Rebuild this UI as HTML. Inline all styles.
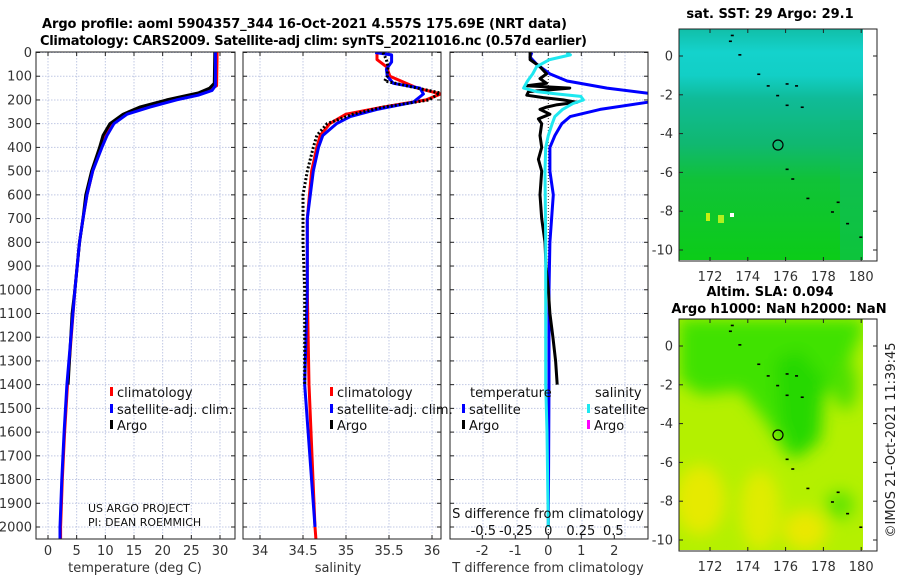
<!DOCTYPE html>
<html><head><meta charset="utf-8"><style>
body{margin:0;background:#fff}
svg{display:block;font-family:"DejaVu Sans","Liberation Sans",sans-serif}
</style></head><body>
<svg id="fig" width="900" height="580" viewBox="0 0 900 580" xmlns="http://www.w3.org/2000/svg">
<defs>
<clipPath id="c1"><rect x="36" y="52" width="199" height="487"/></clipPath>
<clipPath id="c2"><rect x="243" y="52" width="198" height="487"/></clipPath>
<clipPath id="c3"><rect x="450" y="52" width="198" height="487"/></clipPath>
<clipPath id="cm2"><rect x="679" y="319" width="184" height="231"/></clipPath>
<linearGradient id="sstg" x1="0" y1="0" x2="0" y2="1">
<stop offset="0" stop-color="#12bfa8"/><stop offset="0.1" stop-color="#14d2cc"/><stop offset="0.2" stop-color="#12cfc6"/>
<stop offset="0.3" stop-color="#10bb98"/><stop offset="0.5" stop-color="#10b870"/><stop offset="0.65" stop-color="#10c238"/>
<stop offset="1" stop-color="#0ccc18"/></linearGradient>
<filter id="bl"><feGaussianBlur stdDeviation="8"/></filter>
</defs>
<g font-weight="bold" font-size="13" fill="#000">
<text x="42" y="28" textLength="525">Argo profile: aoml 5904357_344 16-Oct-2021 4.557S 175.69E (NRT data)</text>
<text x="40" y="45" textLength="547">Climatology: CARS2009. Satellite-adj clim: synTS_20211016.nc (0.57d earlier)</text>
</g>
<g id="panels"></g>
<g>
<rect x="679" y="29" width="184" height="231" fill="url(#sstg)"/>
<rect x="840" y="120" width="23" height="140" fill="#10b870" opacity="0.4"/>
<rect x="706" y="213" width="4" height="8" fill="#c8f010"/><rect x="718" y="215" width="6" height="8" fill="#b0f020"/><rect x="730" y="213" width="4" height="4" fill="#fff"/>
<text x="770" y="18" text-anchor="middle" font-weight="bold" font-size="13">sat. SST: 29 Argo: 29.1</text>
<circle cx="778" cy="145" r="5" fill="none" stroke="#000" stroke-width="1.2"/>
</g>
<g>
<rect x="679" y="319" width="184" height="231" fill="#b4f000"/>
<g clip-path="url(#cm2)"><g filter="url(#bl)">
<path d="M679 319 H863 V330 L850 360 L835 390 L800 400 L790 460 L765 420 L740 390 L700 395 L679 380Z" fill="#40e200"/>
<path d="M775 360 L800 350 L825 380 L820 440 L795 460 L780 420Z" fill="#28d800"/>
<ellipse cx="700" cy="500" rx="25" ry="35" fill="#e6ea00"/>
<ellipse cx="760" cy="510" rx="20" ry="40" fill="#e0ec00"/>
<ellipse cx="805" cy="530" rx="22" ry="20" fill="#eae800"/>
<ellipse cx="840" cy="505" rx="14" ry="14" fill="#60e400"/>
<ellipse cx="845" cy="385" rx="12" ry="25" fill="#50e000"/>
</g></g>
<text x="770" y="296" text-anchor="middle" font-weight="bold" font-size="13">Altim. SLA: 0.094</text>
<text x="779" y="313" text-anchor="middle" font-weight="bold" font-size="13">Argo h1000: NaN h2000: NaN</text>
<circle cx="778" cy="435" r="5" fill="none" stroke="#000" stroke-width="1.2"/>
</g>
<g id="maps"></g>
<text transform="translate(895,440) rotate(-90)" text-anchor="middle" font-size="13" fill="#222">©IMOS 21-Oct-2021 11:39:45</text>
</svg>
<script>
const tDepth=[0,130,150,170,200,230,260,300,350,400,500,600,700,800,1000,1100,1400];
const tArgo=[29.1,29.0,28.2,26.3,20.7,16,13.1,10.8,9.6,9.0,7.6,6.6,6.1,5.5,4.7,4.2,3.5];
const tcDepth=[0,140,160,180,200,230,260,300,350,400,500,600,700,800,1000,1400,1600,1800,2000,2050];
const tClim=[29.5,29.4,28.0,25.0,21.0,16.8,13.3,11.2,10.0,9.2,7.8,6.8,6.1,5.5,4.7,3.4,2.9,2.5,2.2,2.2];
const tSat=[29.2,29.2,28.6,26.2,22.4,17.8,13.8,11.5,10.3,9.4,7.8,6.8,6.1,5.5,4.7,3.3,2.8,2.4,2.1,2.1];
const sDepth=[0,30,60,100,120,150,170,200,230,260,300,350,400,500,600,800,1000,1400];
const sArgo=[35.43,35.47,35.49,35.48,35.45,35.83,36.09,35.97,35.43,35.08,34.78,34.66,34.62,34.55,34.5,34.5,34.52,34.52];
const scDepth=[0,30,60,100,150,175,200,230,260,300,350,400,500,700,1000,1400,2000,2050];
const sClim=[35.36,35.36,35.47,35.51,35.83,36.1,35.93,35.43,35.0,34.81,34.7,34.66,34.6,34.55,34.55,34.57,34.64,34.65];
const ssDepth=[0,10,40,70,100,130,150,175,210,240,270,300,350,400,500,700,1000,1400,2000];
const sSat=[35.34,35.53,35.53,35.47,35.48,35.55,35.86,35.9,35.78,35.36,35.05,34.89,34.73,34.68,34.62,34.55,34.55,34.52,34.64];
const dtDepth=[0,20,50,90,120,150,175,200,210,240,270,300,350,400,500,600,800,1000,1400,2000];
const dtSat=[-0.5,-0.55,-0.35,0.05,0.57,1.78,3.2,3.4,3.0,1.57,0.66,0.41,0.2,0.05,0.05,0.15,0.05,0.02,0.02,0];
const daDepth=[0,30,60,90,110,130,140,150,165,180,190,200,210,220,230,240,260,280,300,350,400,450,500,600,700,800,900,1000,1100,1200,1300,1400];
const dtArgo=[-0.55,-0.55,-0.25,-0.05,-0.25,-0.05,-0.65,0.65,-0.6,-0.65,-0.15,0.45,0.87,0.27,-0.05,-0.25,0.05,-0.3,-0.2,-0.25,-0.2,-0.3,-0.2,-0.25,-0.2,-0.1,-0.07,0,0.05,0.14,0.22,0.27];
const dsDepth=[0,10,30,60,90,120,150,165,175,185,200,215,240,270,300,350,400,500,800,1400,1600,2000];
const dsSat=[0.14,0.17,0.01,-0.09,-0.12,-0.16,-0.19,-0.09,0.07,0.25,0.27,0.19,0.11,0.05,0.03,0,-0.02,-0.025,-0.02,-0.02,-0.01,0];
const depthTicks=[0,100,200,300,400,500,600,700,800,900,1000,1100,1200,1300,1400,1500,1600,1700,1800,1900,2000];
const tTicks=[0,5,10,15,20,25,30];
const sTicks=[34,34.5,35,35.5,36];
const dtTicks=[-2,-1,0,1,2];
const dsTicks=[-0.5,-0.25,0,0.25,0.5];
const latTicks=[0,-2,-4,-6,-8,-10];
const lonTicks=[172,174,176,178,180];

const NS='http://www.w3.org/2000/svg';
const root=document.getElementById('panels');
function el(tag,attrs,parent){const e=document.createElementNS(NS,tag);for(const k in attrs)e.setAttribute(k,attrs[k]);(parent||root).appendChild(e);return e;}
const yD=d=>52.5+d*0.23725;
const xT=t=>48+t*5.733;
const xS=s=>260+(s-34)*86;
const xDT=v=>548.3+v*33;
const xDS=v=>548.3+v*130;
const Y0=52,Y1=539;
const panels=[{x0:36,x1:235,clip:'c1'},{x0:243,x1:441,clip:'c2'},{x0:450,x1:648,clip:'c3'}];
const grid='#c0c8e4';
panels.forEach((p,i)=>{
  const g=el('g',{});
  
  
  depthTicks.forEach(d=>{
    const l=el('line',{x1:p.x0,x2:p.x1,y1:yD(d),y2:yD(d),stroke:grid,'stroke-width':1,'stroke-dasharray':'1.5,1.5'},g);
    
    
    el('line',{x1:p.x0,x2:p.x0+4,y1:yD(d),y2:yD(d),stroke:'#222'},g);
    el('line',{x1:p.x1-4,x2:p.x1,y1:yD(d),y2:yD(d),stroke:'#222'},g);
  });
  p.g=g;
});
depthTicks.forEach(d=>{
  const t=el('text',{x:32,y:yD(d)+4.5,'text-anchor':'end','font-size':13,fill:'#333'});
  t.textContent=d;
  
  
});
function xAxis(p,ticks,fx,labelY,fmt,gridXs){
  (gridXs||ticks.map(fx)).forEach(x=>{
    const l=el('line',{x1:x,x2:x,y1:Y0,y2:Y1,stroke:grid,'stroke-dasharray':'1.5,1.5'},p.g);
    
    
  });
  ticks.forEach(v=>{
    const x=fx(v);
    el('line',{x1:x,x2:x,y1:Y1-4,y2:Y1,stroke:'#222'},p.g);
    el('line',{x1:x,x2:x,y1:Y0,y2:Y0+4,stroke:'#222'},p.g);
    const t=el('text',{x:x,y:labelY,'text-anchor':'middle','font-size':13,fill:'#333'},p.g);
    t.textContent=fmt?fmt(v):v;
    
    
  });
}
xAxis(panels[0],tTicks,xT,555);
xAxis(panels[1],sTicks,xS,555);
xAxis(panels[2],dtTicks,xDT,555,null,[483,517,582,625]);
el('line',{x1:548.3,x2:548.3,y1:Y0,y2:Y1,stroke:'#333','stroke-dasharray':'1,2'},panels[2].g);
function line(p,depths,vals,fx,color,w,dash,name){
  const pts=depths.map((d,i)=>fx(vals[i]).toFixed(1)+','+yD(d).toFixed(1)).join(' ');
  const a={points:pts,fill:'none',stroke:color,'stroke-width':w,'stroke-linejoin':'round','clip-path':'url(#'+p.clip+')'};
  if(dash)a['stroke-dasharray']=dash;
  const e=el('polyline',a,p.g);
  
  
}
line(panels[0],tcDepth,tClim,xT,'#f00',3,null,'temperature-climatology-line');
line(panels[0],tDepth,tArgo,xT,'#000',3,null,'temperature-argo-line');
line(panels[0],tcDepth,tSat,xT,'#00f',3,null,'temperature-satellite-line');
line(panels[1],scDepth,sClim,xS,'#f00',3,null,'salinity-climatology-line');
line(panels[1],ssDepth,sSat,xS,'#00f',3,null,'salinity-satellite-line');
line(panels[1],sDepth,sArgo,xS,'#000',3,'2,2','salinity-argo-line');
line(panels[2],dtDepth,dtSat,xDT,'#00f',3,null,'temp-diff-satellite-line');
line(panels[2],daDepth,dtArgo,xDT,'#000',3,null,'temp-diff-argo-line');
line(panels[2],dsDepth,dsSat,xDS,'#1ee8f0',3,null,'sal-diff-satellite-line');
panels.forEach(p=>{
  const r=el('rect',{x:p.x0,y:Y0,width:p.x1-p.x0,height:Y1-Y0,fill:'none',stroke:'#222','stroke-width':1},p.g);
  
  
});
dsTicks.forEach(v=>{
  const t=el('text',{x:xDS(v),y:535,'text-anchor':'middle','font-size':13,fill:'#111'},panels[2].g);
  t.textContent=v;
  
  
});
function txt(x,y,s,name,opts){const t=el('text',Object.assign({x:x,y:y,'font-size':13,fill:'#111'},opts||{}));t.textContent=s;return t;}
txt(548,518,'S difference from climatology','s-diff-axis-title',{'text-anchor':'middle'});
txt(135,572,'temperature (deg C)','x-axis-title-temperature',{'text-anchor':'middle',fill:'#333'});
txt(338,572,'salinity','x-axis-title-salinity',{'text-anchor':'middle',fill:'#333'});
txt(548,572,'T difference from climatology','x-axis-title-tdiff',{'text-anchor':'middle',fill:'#333'});
txt(88,512,'US ARGO PROJECT','project-label',{'font-size':11});
txt(88,526,'PI: DEAN ROEMMICH','pi-label',{'font-size':11});
function leg(mx,ty,color,label,name){
  const m=el('rect',{x:mx,y:ty-10,width:3,height:9,fill:color});
  
  
  txt(mx+7,ty,label,name);
}
leg(110,397,'#f00','climatology','legend-t-climatology');
leg(110,414,'#00f','satellite-adj. clim.','legend-t-satellite');
leg(110,430,'#000','Argo','legend-t-argo');
leg(330,397,'#f00','climatology','legend-s-climatology');
leg(330,414,'#00f','satellite-adj. clim.','legend-s-satellite');
leg(330,430,'#000','Argo','legend-s-argo');
txt(470,397,'temperature','legend-temperature-header');
leg(462,414,'#00f','satellite','legend-dt-satellite');
leg(462,430,'#000','Argo','legend-dt-argo');
txt(595,397,'salinity','legend-salinity-header');
leg(587,414,'#1ee8f0','satellite','legend-ds-satellite');
leg(587,430,'#f0f','Argo','legend-ds-argo');
const mroot=document.getElementById('maps');
const maps=[{top:29,bot:261,lat0:56,lblY:281},{top:319,bot:551,lat0:346,lblY:571}];
const coast=[[173.1,1.1],[173.0,0.8],[173.5,0.1],[174.5,-0.9],[175.0,-1.5],[175.5,-2.0],[176.0,-1.4],[176.5,-1.5],[176.0,-2.5],[176.8,-2.6],[176.0,-5.8],[176.3,-6.3],[177.1,-7.3],[178.7,-7.5],[178.4,-8.0],[179.2,-8.6],[179.9,-9.3]];
maps.forEach((m,i)=>{
  const yL=lat=>m.lat0-lat*19.4;
  const xL=lon=>710+(lon-172)*18.9;
  coast.forEach(c=>{
    const e=el('rect',{x:xL(c[0]),y:yL(c[1]),width:3,height:1.6,fill:'#000'},mroot);
    
    
  });
  const f=el('rect',{x:679,y:m.top,width:198,height:m.bot-m.top,fill:'none',stroke:'#222'},mroot);
  
  
  latTicks.forEach(v=>{
    const y=yL(v);
    el('line',{x1:679,x2:683,y1:y,y2:y,stroke:'#222'},mroot);
    el('line',{x1:873,x2:877,y1:y,y2:y,stroke:'#222'},mroot);
    const t=el('text',{x:673,y:y+4.5,'text-anchor':'end','font-size':13,fill:'#333'},mroot);
    t.textContent=v;
    
    
  });
  lonTicks.forEach(v=>{
    const x=xL(v);
    el('line',{x1:x,x2:x,y1:m.bot-4,y2:m.bot,stroke:'#222'},mroot);
    el('line',{x1:x,x2:x,y1:m.top,y2:m.top+4,stroke:'#222'},mroot);
    const t=el('text',{x:x,y:m.lblY,'text-anchor':'middle','font-size':13,fill:'#333'},mroot);
    t.textContent=v;
    
    
  });
});
</script>
</body></html>
